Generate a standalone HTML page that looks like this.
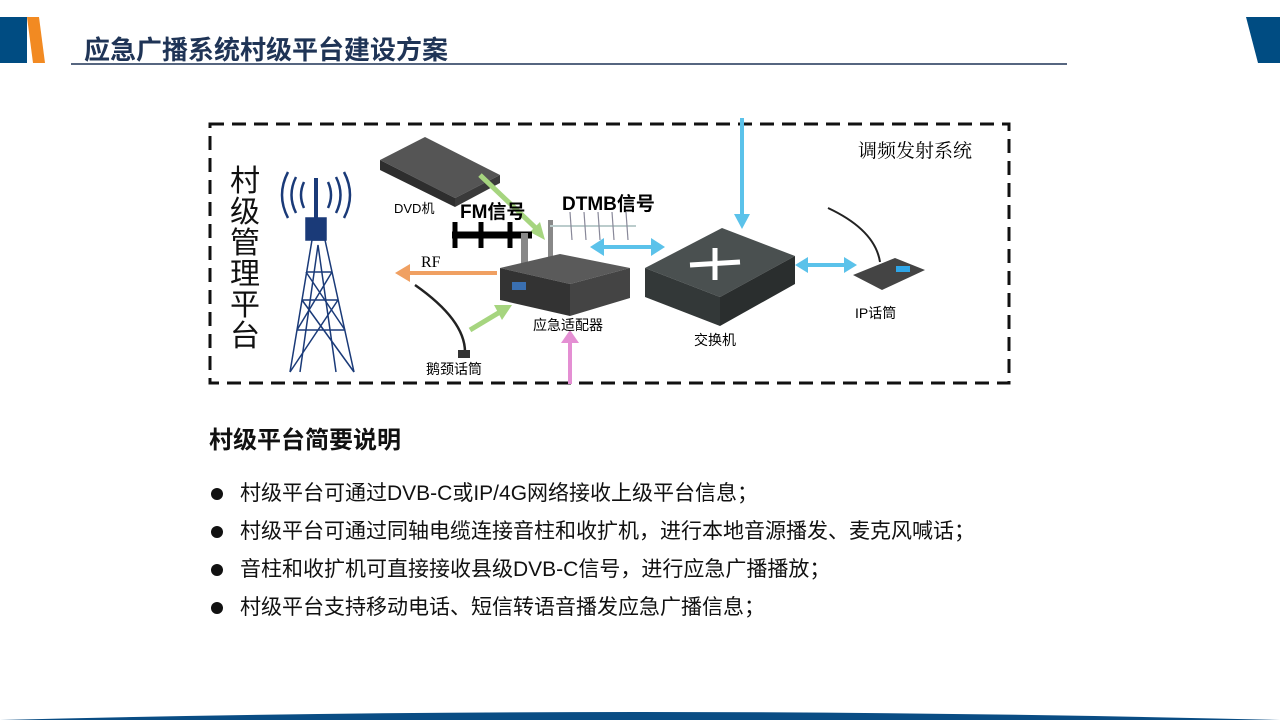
<!DOCTYPE html>
<html><head><meta charset="utf-8"><style>
body{margin:0;width:1280px;height:720px;overflow:hidden;background:#fff;font-family:"Liberation Sans","Noto Sans CJK SC",sans-serif;position:relative}
.t{position:absolute;left:84px;top:30px;font-size:26px;font-weight:bold;color:#1f3456;letter-spacing:0px}
.h{position:absolute;left:209px;top:420px;font-size:24px;font-weight:bold;color:#111}
ul{position:absolute;left:210px;top:479px;margin:0;padding:0;list-style:none}
li{font-size:21px;color:#111;height:38px;line-height:30px;position:relative;padding-left:30px}
li:before{content:"";position:absolute;left:1px;top:9px;width:12px;height:12px;border-radius:50%;background:#111}
</style></head><body>
<svg width="1280" height="720" style="position:absolute;left:0;top:0">
<polygon points="0,17 27,17 27,63 0,63" fill="#004c82"/>
<polygon points="27,17 39,17 45,63 33,63" fill="#f28a22"/>
<polygon points="1246,17 1280,17 1280,63 1258,63" fill="#004c82"/>
<line x1="71" y1="64" x2="1067" y2="64" stroke="#1f3456" stroke-width="1.5"/>
<path d="M0,720 Q640,704 1280,720 Z" fill="#0a4d84"/>
<rect x="210" y="124" width="799" height="259" fill="none" stroke="#111" stroke-width="3" stroke-dasharray="14,8"/>
<g stroke="#1a3a78" stroke-width="1.5" fill="none">
<path d="M290,372 L312,240 L325,240 L354,372"/>
<path d="M300,372 L318,245 L336,372"/>
<path d="M297,330 L345,330 M302,300 L338,300 M306,272 L332,272 M290,372 L338,300 M354,372 L302,300 M297,330 L332,272 M345,330 L306,272"/>
<rect x="306" y="218" width="20" height="22" fill="#1a3a78"/>
<line x1="316" y1="178" x2="316" y2="218" stroke-width="4"/>
<path d="M304,182 Q298,195 304,208 M328,182 Q334,195 328,208 M296,177 Q287,195 296,213 M336,177 Q345,195 336,213 M288,172 Q276,195 288,218 M344,172 Q356,195 344,218" stroke-width="2.5"/>
</g>
<polygon points="380,160 425,137 500,175 455,198" fill="#555"/>
<polygon points="380,160 455,198 455,207 380,170" fill="#2e2e2e"/>
<polygon points="455,198 500,175 500,183 455,207" fill="#3a3a3a"/>
<line x1="480" y1="175" x2="540" y2="232" stroke="#a6d57f" stroke-width="5"/>
<polygon points="545,240 530,232 540,222" fill="#a6d57f"/>
<line x1="497" y1="273" x2="410" y2="273" stroke="#f0a062" stroke-width="4"/>
<polygon points="395,273 410,264 410,282" fill="#f0a062"/>
<line x1="470" y1="330" x2="500" y2="312" stroke="#a6d57f" stroke-width="5"/>
<polygon points="512,305 494,305 502,320" fill="#a6d57f"/>
<line x1="570" y1="384" x2="570" y2="340" stroke="#e48fd3" stroke-width="4"/>
<polygon points="570,330 561,343 579,343" fill="#e48fd3"/>
<line x1="742" y1="118" x2="742" y2="220" stroke="#5bc2ea" stroke-width="4"/>
<polygon points="742,229 734,214 750,214" fill="#5bc2ea"/>
<line x1="600" y1="247" x2="655" y2="247" stroke="#5bc2ea" stroke-width="4"/>
<polygon points="590,247 604,238 604,256" fill="#5bc2ea"/><polygon points="665,247 651,238 651,256" fill="#5bc2ea"/>
<line x1="800" y1="265" x2="850" y2="265" stroke="#5bc2ea" stroke-width="4"/>
<polygon points="795,265 808,257 808,273" fill="#5bc2ea"/><polygon points="857,265 844,257 844,273" fill="#5bc2ea"/>
<line x1="452" y1="235" x2="532" y2="235" stroke="#000" stroke-width="7"/>
<line x1="455" y1="222" x2="455" y2="248" stroke="#000" stroke-width="5"/>
<line x1="481" y1="222" x2="481" y2="248" stroke="#000" stroke-width="5"/>
<line x1="510" y1="222" x2="510" y2="248" stroke="#000" stroke-width="5"/>
<rect x="521" y="233" width="7" height="32" fill="#888"/>
<rect x="548" y="220" width="5" height="40" fill="#888"/>
<line x1="550" y1="226" x2="636" y2="226" stroke="#bcc" stroke-width="2"/>
<g stroke="#889" stroke-width="1.2"><line x1="570" y1="212" x2="572" y2="240"/><line x1="584" y1="212" x2="586" y2="240"/><line x1="598" y1="212" x2="600" y2="240"/><line x1="612" y1="212" x2="614" y2="240"/><line x1="626" y1="212" x2="628" y2="240"/></g>
<polygon points="500,268 560,254 630,268 570,284" fill="#5a5a5a"/>
<polygon points="500,268 570,284 570,316 500,300" fill="#333"/>
<polygon points="570,284 630,268 630,298 570,316" fill="#444"/>
<rect x="512" y="282" width="14" height="8" fill="#3a6fb0"/>
<polygon points="645,268 722,228 795,256 720,297" fill="#4a5050"/>
<polygon points="645,268 720,297 720,326 645,297" fill="#333838"/>
<polygon points="720,297 795,256 795,284 720,326" fill="#2a2e2e"/>
<path d="M690,265 L740,262 M715,248 L715,280" stroke="#fff" stroke-width="5"/>
<path d="M415,285 Q465,320 465,352" stroke="#222" stroke-width="2.5" fill="none"/>
<rect x="458" y="350" width="12" height="8" fill="#333"/>
<path d="M828,208 Q875,230 880,262" stroke="#222" stroke-width="2" fill="none"/>
<polygon points="853,275 895,258 925,270 882,290" fill="#444"/>
<rect x="896" y="266" width="14" height="6" fill="#2fa6e8"/>
</svg>
<div style="position:absolute;left:230px;top:166px;font-size:30px;line-height:31px;width:34px;color:#111">村<br>级<br>管<br>理<br>平<br>台</div>
<div style="position:absolute;left:394px;top:198px;font-size:13px">DVD机</div>
<div style="position:absolute;left:460px;top:197px;font-size:19px;font-weight:bold">FM信号</div>
<div style="position:absolute;left:562px;top:189px;font-size:19px;font-weight:bold">DTMB信号</div>
<div style="position:absolute;left:421px;top:254px;font-size:16px;font-family:'Liberation Serif',serif">RF</div>
<div style="position:absolute;left:533px;top:315px;font-size:14px">应急适配器</div>
<div style="position:absolute;left:426px;top:359px;font-size:14px">鹅颈话筒</div>
<div style="position:absolute;left:694px;top:330px;font-size:14px">交换机</div>
<div style="position:absolute;left:855px;top:303px;font-size:14px">IP话筒</div>
<div style="position:absolute;left:858px;top:136px;font-size:19px;font-family:'Noto Serif CJK SC',serif">调频发射系统</div>
<div class="t">应急广播系统村级平台建设方案</div>
<div class="h">村级平台简要说明</div>
<ul>
<li>村级平台可通过DVB-C或IP/4G网络接收上级平台信息；</li>
<li>村级平台可通过同轴电缆连接音柱和收扩机，进行本地音源播发、麦克风喊话；</li>
<li>音柱和收扩机可直接接收县级DVB-C信号，进行应急广播播放；</li>
<li>村级平台支持移动电话、短信转语音播发应急广播信息；</li>
</ul>
</body></html>
